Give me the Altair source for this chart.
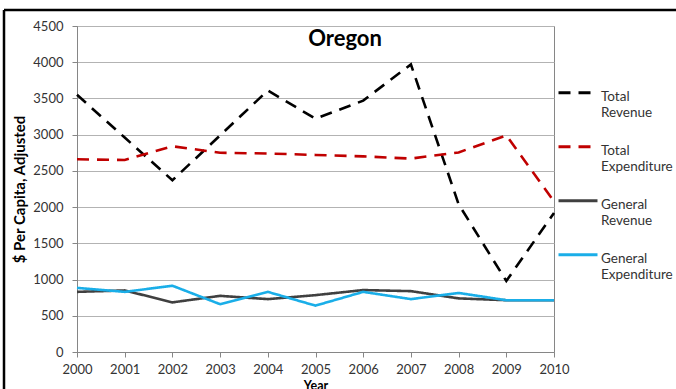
import altair as alt
import pandas as pd

years = list(range(2000, 2011))
series_names = ["Total Revenue", "Total Expenditure", "General Revenue", "General Expenditure"]
total_revenue = [3550, 2960, 2370, 2990, 3610, 3220, 3470, 3970, 2040, 980, 1920]
total_expenditure = [2660, 2650, 2840, 2750, 2740, 2720, 2700, 2670, 2755, 2990, 2080]
general_revenue = [830, 850, 685, 775, 730, 785, 855, 840, 740, 715, 715]
general_expenditure = [885, 830, 915, 660, 830, 640, 830, 730, 815, 715, 715]
series_colors = ["#000000", "#c00000", "#404040", "#1aaee8"]
series_dash = [[12, 8], [12, 8], [1, 0], [1, 0]]

values = [total_revenue, total_expenditure, general_revenue, general_expenditure]
rows = []
for name, vals in zip(series_names, values):
    for yr, v in zip(years, vals):
        rows.append({"Year": yr, "Series": name, "Value": v})
df = pd.DataFrame(rows)

FONT = "Lato"
GRID = "#b3b3b3"
AXIS = "#868686"

# legend key: a horizontal stroke raised to sit beside the first label line
legend = alt.Legend(
    title=None,
    orient="none",
    legendX=480,
    legendY=54,
    symbolType="M-1,-0.42L1,-0.42",
    symbolSize=1520,
    symbolStrokeWidth=3,
    labelExpr="split(datum.label, ' ')",
    labelFont=FONT,
    labelFontSize=13.5,
    labelColor="#333333",
    labelBaseline="alphabetic",
    labelOffset=2,
    rowPadding=15,
    labelLimit=200,
)

lines = alt.Chart(df).mark_line(strokeWidth=2.6).encode(
    x=alt.X("Year:Q",
            scale=alt.Scale(domain=[2000, 2010], nice=False, zero=False),
            axis=alt.Axis(values=years, format="d", title="Year", grid=False,
                          labelFlush=False, labelOverlap=False,
                          titleFont=FONT, titleFontSize=12.5, titleFontWeight="bold",
                          titlePadding=3, labelPadding=6)),
    y=alt.Y("Value:Q",
            scale=alt.Scale(domain=[0, 4500], nice=False),
            axis=alt.Axis(values=list(range(0, 4501, 500)), format="d",
                          title="$ Per Capita, Adjusted",
                          titleFont=FONT, titleFontSize=15, titleFontWeight="bold",
                          titlePadding=5, labelPadding=9)),
    color=alt.Color("Series:N", sort=series_names,
                    scale=alt.Scale(domain=series_names, range=series_colors),
                    legend=legend),
    strokeDash=alt.StrokeDash("Series:N", sort=series_names,
                              scale=alt.Scale(domain=series_names, range=series_dash),
                              legend=legend),
)

title = alt.Chart(pd.DataFrame({"t": ["Oregon"]})).mark_text(
    font=FONT, fontSize=22, fontWeight="bold", color="#000000", baseline="middle"
).encode(x=alt.value(268), y=alt.value(13), text="t:N")

frame_top = alt.Chart(pd.DataFrame({"k": [0]})).mark_rule(color="#000000", strokeWidth=2.5).encode(
    x=alt.value(-73), x2=alt.value(700), y=alt.value(-16))
frame_left = alt.Chart(pd.DataFrame({"k": [0]})).mark_rule(color="#000000", strokeWidth=2.5).encode(
    x=alt.value(-73), y=alt.value(-16), y2=alt.value(400))

chart = alt.layer(lines, title, frame_top, frame_left).properties(
    width=477,
    height=326,
    autosize=alt.AutoSizeParams(type="none"),
    padding={"left": 77, "top": 26, "right": 122, "bottom": 37},
    background="#ffffff",
).configure_view(
    stroke=AXIS, strokeWidth=1
).configure_axis(
    labelFont=FONT, labelFontSize=13, labelColor="#333333",
    domainColor=AXIS, tickColor=AXIS, tickSize=5, gridColor=GRID, gridWidth=1,
    titleColor="#000000",
)

chart.save("out.html", embed_options={"renderer": "svg", "actions": False})
